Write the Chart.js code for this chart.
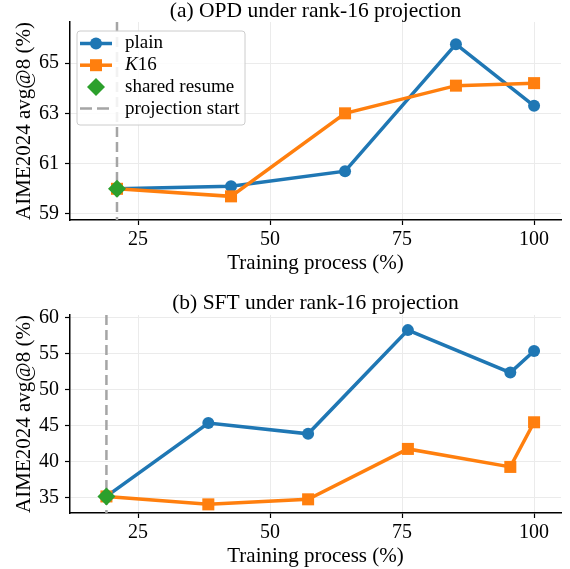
<!DOCTYPE html>
<html>
<head>
<meta charset="utf-8">
<script src="https://cdn.jsdelivr.net/npm/chart.js@4.4.1/dist/chart.umd.min.js"></script>
<style>
body { margin: 0; background: #fff; }
.box { position: relative; width: 570px; }
</style>
</head>
<body>
<div class="box" style="height:285px"><canvas id="graphOpd"></canvas></div>
<div class="box" style="height:284px"><canvas id="graphSft"></canvas></div>
<script>
// (a) OPD
const opdX = [21, 42.6, 64.2, 85.2, 100];
const opdPlain = [60.0, 60.1, 60.7, 65.75, 63.3];
const opdK16 = [60.0, 59.7, 63.0, 64.1, 64.2];
const opdResume = 60.0;
const opdStart = 21;
const opdYTicks = [59, 61, 63, 65];

// (b) SFT
const sftX = [19, 38.3, 57.2, 76.1, 95.5, 100];
const sftPlain = [35.2, 45.4, 43.9, 58.3, 52.4, 55.4];
const sftK16 = [35.2, 34.1, 34.8, 41.8, 39.3, 45.5];
const sftResume = 35.2;
const sftStart = 19;
const sftYTicks = [35, 40, 45, 50, 55, 60];

const xTicks = [25, 50, 75, 100];
const legendLabels = ['plain', 'K16', 'shared resume', 'projection start'];

const BLEU = '#1f77b4';
const ORANGE = '#ff7f0e';
const VERT = '#2ca02c';
const GRIS = '#a5a5a5';
const POLICE = "'Liberation Serif', 'DejaVu Serif', serif";
const TIRETS = [10, 5];

function points(xs, ys) {
    return xs.map((x, i) => ({ x: x, y: ys[i] }));
}

// ligne verticale "projection start"
const startLine = {
    id: 'startLine',
    beforeDatasetsDraw(chart, args, opts) {
        const ctx = chart.ctx;
        const a = chart.chartArea;
        const px = chart.scales.x.getPixelForValue(opts.value);
        ctx.save();
        ctx.strokeStyle = GRIS;
        ctx.lineWidth = 2.5;
        ctx.setLineDash(TIRETS);
        ctx.beginPath();
        ctx.moveTo(px, a.top);
        ctx.lineTo(px, a.bottom);
        ctx.stroke();
        ctx.restore();
    }
};

// titre centré sur la zone du graphique (comme matplotlib)
const titreAxes = {
    id: 'titreAxes',
    afterDraw(chart, args, opts) {
        const ctx = chart.ctx;
        const a = chart.chartArea;
        ctx.save();
        ctx.font = '21.5px ' + POLICE;
        ctx.fillStyle = '#000';
        ctx.textAlign = 'center';
        ctx.textBaseline = 'middle';
        ctx.fillText(opts.text, (a.left + a.right) / 2, opts.y);
        ctx.restore();
    }
};

// légende façon matplotlib
const legendBox = {
    id: 'legendBox',
    afterDraw(chart, args, opts) {
        if (!opts.show) return;
        const ctx = chart.ctx;
        const a = chart.chartArea;
        const x0 = a.left + 7, y0 = a.top + 9, w = 168, h = 94;
        ctx.save();
        ctx.beginPath();
        ctx.roundRect(x0, y0, w, h, 3);
        ctx.fillStyle = 'rgba(255,255,255,0.85)';
        ctx.fill();
        ctx.strokeStyle = '#cccccc';
        ctx.lineWidth = 1;
        ctx.stroke();

        const hx1 = x0 + 3, hx2 = x0 + 35, mx = x0 + 19, tx = x0 + 48;
        ctx.textBaseline = 'middle';
        ctx.fillStyle = '#000';
        for (let i = 0; i < legendLabels.length; i++) {
            const y = y0 + 12.5 + i * 21.7;
            ctx.save();
            if (i === 0 || i === 1) {
                ctx.strokeStyle = i === 0 ? BLEU : ORANGE;
                ctx.lineWidth = 3.5;
                ctx.beginPath();
                ctx.moveTo(hx1, y);
                ctx.lineTo(hx2, y);
                ctx.stroke();
                ctx.fillStyle = i === 0 ? BLEU : ORANGE;
                ctx.beginPath();
                if (i === 0) ctx.arc(mx, y, 6, 0, Math.PI * 2);
                else ctx.rect(mx - 6, y - 6, 12, 12);
                ctx.fill();
            } else if (i === 2) {
                ctx.fillStyle = VERT;
                ctx.beginPath();
                ctx.moveTo(mx - 9, y);
                ctx.lineTo(mx, y - 9);
                ctx.lineTo(mx + 9, y);
                ctx.lineTo(mx, y + 9);
                ctx.closePath();
                ctx.fill();
            } else {
                ctx.strokeStyle = GRIS;
                ctx.lineWidth = 2.5;
                ctx.setLineDash([12, 5]);
                ctx.beginPath();
                ctx.moveTo(hx1, y);
                ctx.lineTo(hx2, y);
                ctx.stroke();
            }
            ctx.restore();
            if (i === 1) {
                ctx.font = 'italic 19px ' + POLICE;
                ctx.fillText('K', tx, y);
                const kw = ctx.measureText('K').width;
                ctx.font = '19px ' + POLICE;
                ctx.fillText(legendLabels[i].slice(1), tx + kw, y);
            } else {
                ctx.font = '19px ' + POLICE;
                ctx.fillText(legendLabels[i], tx, y);
            }
        }
        ctx.restore();
    }
};

function creerGraphique(id, cfg) {
    const ctx = document.getElementById(id).getContext('2d');
    const policeTicks = { family: POLICE, size: 20 };
    return new Chart(ctx, {
        type: 'line',
        data: {
            datasets: [
                {
                    label: 'shared resume',
                    data: [{ x: cfg.start, y: cfg.resume }],
                    showLine: false,
                    pointStyle: 'rectRot',
                    pointRadius: 9,
                    backgroundColor: VERT,
                    borderColor: VERT,
                    borderWidth: 0,
                    order: 0
                },
                {
                    label: 'K16',
                    data: points(cfg.xs, cfg.k16),
                    borderColor: ORANGE,
                    backgroundColor: ORANGE,
                    borderWidth: 3.5,
                    pointStyle: 'rect',
                    pointRadius: 8.5,
                    pointBorderWidth: 0,
                    tension: 0,
                    order: 1
                },
                {
                    label: 'plain',
                    data: points(cfg.xs, cfg.plain),
                    borderColor: BLEU,
                    backgroundColor: BLEU,
                    borderWidth: 3.5,
                    pointStyle: 'circle',
                    pointRadius: 6,
                    pointBorderWidth: 0,
                    tension: 0,
                    order: 2
                }
            ]
        },
        plugins: [startLine, titreAxes, legendBox],
        options: {
            responsive: true,
            maintainAspectRatio: false,
            animation: false,
            devicePixelRatio: 1,
            layout: { padding: { left: 0, right: 8, top: cfg.plotTop, bottom: 0 } },
            plugins: {
                legend: { display: false },
                tooltip: { enabled: false },
                title: { display: false },
                titreAxes: { text: cfg.title, y: cfg.titleY },
                startLine: { value: cfg.start },
                legendBox: { show: cfg.legend }
            },
            scales: {
                x: {
                    type: 'linear',
                    min: 12.1,
                    max: 105.1,
                    afterBuildTicks: s => { s.ticks = xTicks.map(v => ({ value: v })); },
                    afterFit: s => { s.height = cfg.xHeight; },
                    grid: { color: '#ebebeb', lineWidth: 1, tickColor: '#000', tickLength: 5, tickWidth: 1.2 },
                    border: { color: '#000', width: 1.5 },
                    ticks: { color: '#000', font: policeTicks, padding: 3, maxRotation: 0 },
                    title: {
                        display: true,
                        text: 'Training process (%)',
                        color: '#000',
                        font: { family: POLICE, size: 21, lineHeight: 1.0 },
                        padding: { top: 0, bottom: cfg.xTitlePad }
                    }
                },
                y: {
                    min: cfg.yMin,
                    max: cfg.yMax,
                    afterBuildTicks: s => { s.ticks = cfg.yTicks.map(v => ({ value: v })); },
                    afterFit: s => { s.width = 70; },
                    grid: { color: '#ebebeb', lineWidth: 1, tickColor: '#000', tickLength: 5, tickWidth: 1.2 },
                    border: { color: '#000', width: 1.5 },
                    ticks: { color: '#000', font: policeTicks, padding: 6 },
                    title: {
                        display: true,
                        text: 'AIME2024 avg@8 (%)',
                        color: '#000',
                        font: { family: POLICE, size: 21, lineHeight: 1.0 },
                        padding: { top: 14, bottom: 0 }
                    }
                }
            }
        }
    });
}

creerGraphique('graphOpd', {
    title: '(a) OPD under rank-16 projection',
    titleY: 11.5, plotTop: 22,
    xs: opdX, plain: opdPlain, k16: opdK16,
    resume: opdResume, start: opdStart,
    yMin: 58.76, yMax: 66.63, yTicks: opdYTicks,
    xHeight: 65, xTitlePad: 11,
    legend: true
});

creerGraphique('graphSft', {
    title: '(b) SFT under rank-16 projection',
    titleY: 18, plotTop: 30,
    xs: sftX, plain: sftPlain, k16: sftK16,
    resume: sftResume, start: sftStart,
    yMin: 32.9, yMax: 60.4, yTicks: sftYTicks,
    xHeight: 56, xTitlePad: 2,
    legend: false
});
</script>
</body>
</html>
